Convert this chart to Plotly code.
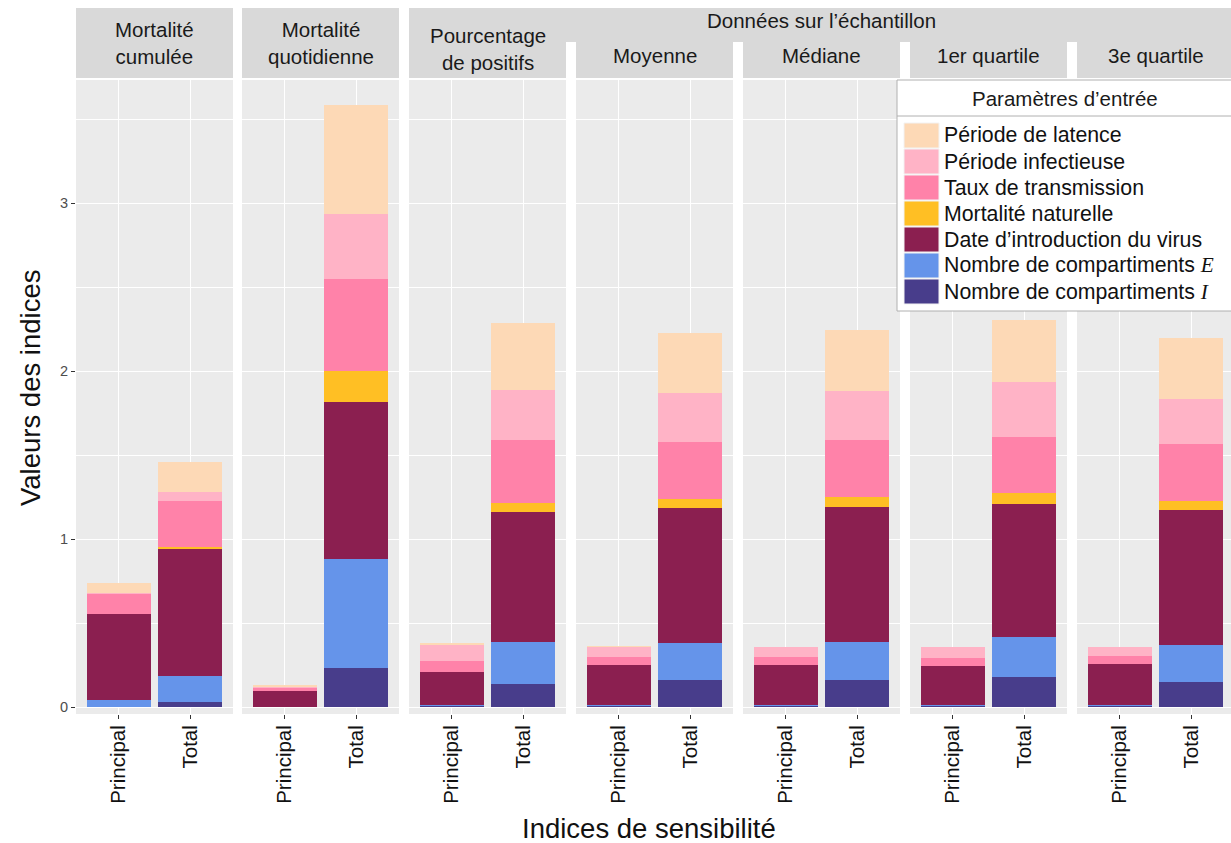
import plotly.graph_objects as go

W, H = 1231, 843

# ---------------- data ----------------
panels = ["Mortalité<br>cumulée", "Mortalité<br>quotidienne", "Pourcentage<br>de positifs",
          "Moyenne", "Médiane", "1er quartile", "3e quartile"]
group_label = "Données sur l’échantillon"
categories = ["Principal", "Total"]

params = ["Nombre de compartiments I", "Nombre de compartiments E", "Date d’introduction du virus",
          "Mortalité naturelle", "Taux de transmission", "Période infectieuse", "Période de latence"]
legend_labels = {
    "Période de latence": "Période de latence",
    "Période infectieuse": "Période infectieuse",
    "Taux de transmission": "Taux de transmission",
    "Mortalité naturelle": "Mortalité naturelle",
    "Date d’introduction du virus": "Date d’introduction du virus",
    "Nombre de compartiments E": "Nombre de compartiments <span style=\"font-family:'Liberation Serif'\"><i>E</i></span>",
    "Nombre de compartiments I": "Nombre de compartiments <span style=\"font-family:'Liberation Serif'\"><i>I</i></span>",
}
colors = {
    "Période de latence": "#FDD9B6",
    "Période infectieuse": "#FFB3C6",
    "Taux de transmission": "#FF82A9",
    "Mortalité naturelle": "#FFBF24",
    "Date d’introduction du virus": "#8B1F50",
    "Nombre de compartiments E": "#6594EA",
    "Nombre de compartiments I": "#483D8B",
}

# values per panel (7 panels), principal and total indices
principal = {
    "Nombre de compartiments I":    [0.000, 0.000, 0.008, 0.006, 0.006, 0.006, 0.006],
    "Nombre de compartiments E":    [0.044, 0.000, 0.004, 0.004, 0.003, 0.003, 0.003],
    "Date d’introduction du virus": [0.512, 0.093, 0.194, 0.242, 0.243, 0.235, 0.249],
    "Mortalité naturelle":          [0.000, 0.000, 0.000, 0.000, 0.000, 0.000, 0.000],
    "Taux de transmission":         [0.120, 0.024, 0.066, 0.048, 0.048, 0.050, 0.046],
    "Période infectieuse":          [0.005, 0.004, 0.101, 0.058, 0.059, 0.065, 0.055],
    "Période de latence":           [0.060, 0.006, 0.006, 0.005, 0.000, 0.000, 0.000],
}
total = {
    "Nombre de compartiments I":    [0.028, 0.232, 0.137, 0.161, 0.161, 0.177, 0.147],
    "Nombre de compartiments E":    [0.156, 0.649, 0.248, 0.222, 0.228, 0.238, 0.220],
    "Date d’introduction du virus": [0.755, 0.934, 0.774, 0.800, 0.800, 0.791, 0.806],
    "Mortalité naturelle":          [0.013, 0.185, 0.053, 0.055, 0.059, 0.066, 0.053],
    "Taux de transmission":         [0.274, 0.548, 0.377, 0.339, 0.339, 0.337, 0.341],
    "Période infectieuse":          [0.056, 0.387, 0.300, 0.292, 0.292, 0.324, 0.266],
    "Période de latence":           [0.178, 0.648, 0.399, 0.357, 0.367, 0.371, 0.363],
}
legend_order = ["Période de latence", "Période infectieuse", "Taux de transmission",
                "Mortalité naturelle", "Date d’introduction du virus",
                "Nombre de compartiments E", "Nombre de compartiments I"]

y_ticks = [0, 1, 2, 3]
y_tick_labels = ["0", "1", "2", "3"]

# ---------------- layout geometry (pixels) ----------------
FONT = "Liberation Sans, Arial, sans-serif"
panel_x = [(76, 233), (242, 399), (409, 566), (576, 733), (743, 900), (910, 1067), (1077, 1234)]
PANEL_TOP, PANEL_BOT = 80, 714
ZERO_PX, PX_PER_UNIT = 707, 168
STRIP_TOP = 8
STRIP_FS = 20.5
TICK_FS = 20.5
LEG_FS = 21.3
TITLE_FS = 27.5


def px(x):
    return x / W


def py(y):
    return 1 - y / H


y_range = [-(PANEL_BOT - ZERO_PX) / PX_PER_UNIT, (ZERO_PX - PANEL_TOP) / PX_PER_UNIT]

fig = go.Figure()

for i in range(len(panels)):
    xname = "x" if i == 0 else f"x{i+1}"
    yname = "y" if i == 0 else f"y{i+1}"
    for p in params:
        fig.add_trace(go.Bar(
            x=categories, y=[principal[p][i], total[p][i]],
            xaxis=xname, yaxis=yname, name=p, showlegend=False,
            marker=dict(color=colors[p], line=dict(width=0)),
            width=0.9, hovertemplate=p + ": %{y}<extra></extra>",
        ))

layout = dict(
    width=W, height=H, barmode="stack",
    margin=dict(l=0, r=0, t=0, b=0),
    paper_bgcolor="white", plot_bgcolor="#EBEBEB",
    font=dict(family=FONT, color="#1A1A1A"),
    shapes=[], annotations=[],
)

for i, (x0, x1) in enumerate(panel_x):
    sfx = "" if i == 0 else str(i + 1)
    x1c = min(x1, W)
    unit = (x1 - x0) / 2.2
    rng = [-0.6, -0.6 + (x1c - x0) / unit]
    layout["xaxis" + sfx] = dict(
        domain=[px(x0), px(x1c)], anchor="y" + sfx, type="category",
        categoryorder="array", categoryarray=categories, range=rng,
        showgrid=True, gridcolor="white", gridwidth=1.3, zeroline=False,
        tickangle=-90, ticks="outside", ticklen=4, tickcolor="#333333", tickwidth=1,
        ticklabelstandoff=-2,
        tickfont=dict(size=TICK_FS, color="#111111", family=FONT), automargin=False,
        showline=False, fixedrange=True,
    )
    layout["yaxis" + sfx] = dict(
        domain=[py(PANEL_BOT), py(PANEL_TOP)], anchor="x" + sfx, range=y_range,
        tickvals=y_ticks, ticktext=y_tick_labels,
        showgrid=True, gridcolor="white", gridwidth=1.3, zeroline=False,
        minor=dict(dtick=0.5, tick0=0, showgrid=True, gridcolor="white", gridwidth=0.6),
        showticklabels=(i == 0), ticks="outside" if i == 0 else "",
        ticklen=4, tickcolor="#333333", tickwidth=1,
        tickfont=dict(size=14.5, color="#4D4D4D", family=FONT), automargin=False,
        fixedrange=True,
    )

STRIP = "#D9D9D9"
shapes = layout["shapes"]
ann = layout["annotations"]

# strips
for i, (x0, x1) in enumerate(panel_x):
    top = STRIP_TOP if i < 3 else 42
    shapes.append(dict(type="rect", xref="paper", yref="paper", x0=px(x0), x1=px(min(x1, W)),
                       y0=py(78), y1=py(top), fillcolor=STRIP, line=dict(width=0), layer="below"))
shapes.append(dict(type="rect", xref="paper", yref="paper", x0=px(panel_x[2][0]), x1=1.0,
                   y0=py(42), y1=py(STRIP_TOP), fillcolor=STRIP, line=dict(width=0), layer="below"))

for i, (x0, x1) in enumerate(panel_x):
    cy = 43 if i < 2 else (49 if i == 2 else 55)
    ann.append(dict(xref="paper", yref="paper", x=px((x0 + x1) / 2), y=py(cy), text=panels[i],
                    showarrow=False, xanchor="center", yanchor="middle",
                    font=dict(size=STRIP_FS, color="#1A1A1A", family=FONT)))
ann.append(dict(xref="paper", yref="paper", x=px((panel_x[2][0] + panel_x[6][1]) / 2), y=py(20),
                text=group_label, showarrow=False, xanchor="center", yanchor="middle",
                font=dict(size=STRIP_FS, color="#1A1A1A", family=FONT)))

# axis titles
ann.append(dict(xref="paper", yref="paper", x=px(30), y=py(388),
                text="Valeurs des indices", textangle=-90, showarrow=False,
                xanchor="center", yanchor="middle", font=dict(size=TITLE_FS, color="#111111", family=FONT)))
ann.append(dict(xref="paper", yref="paper", x=px(649), y=py(828),
                text="Indices de sensibilité", showarrow=False,
                xanchor="center", yanchor="middle", font=dict(size=TITLE_FS, color="#111111", family=FONT)))

# legend box (drawn manually)
LX0, LX1, LY0, LY1 = 897, 1240, 80, 311
shapes.append(dict(type="rect", xref="paper", yref="paper", x0=px(LX0), x1=px(LX1),
                   y0=py(LY1), y1=py(LY0), fillcolor="white",
                   line=dict(color="#B0B0B0", width=1), layer="above"))
shapes.append(dict(type="line", xref="paper", yref="paper", x0=px(LX0), x1=1.0,
                   y0=py(116), y1=py(116), line=dict(color="#B0B0B0", width=1), layer="above"))
ann.append(dict(xref="paper", yref="paper", x=px(1065), y=py(99), text="Paramètres d’entrée",
                showarrow=False, xanchor="center", yanchor="middle",
                font=dict(size=20.5, color="#1A1A1A", family=FONT)))
for k, p in enumerate(legend_order):
    cy = 135.5 + 26 * k
    shapes.append(dict(type="rect", xref="paper", yref="paper", x0=px(904), x1=px(939),
                       y0=py(cy + 12.5), y1=py(cy - 12.5), fillcolor=colors[p],
                       line=dict(color="#F2F2F2", width=1), layer="above"))
    ann.append(dict(xref="paper", yref="paper", x=px(942), y=py(cy), text=legend_labels[p],
                    showarrow=False, xanchor="left", yanchor="middle",
                    font=dict(size=LEG_FS, color="#111111", family=FONT)))

fig.update_layout(**layout)
fig.write_html(
    "out.html",
    config={"displayModeBar": False},
    post_script="document.body.style.margin='0';document.body.style.padding='0';"
                "document.body.style.overflow='hidden';",
)
